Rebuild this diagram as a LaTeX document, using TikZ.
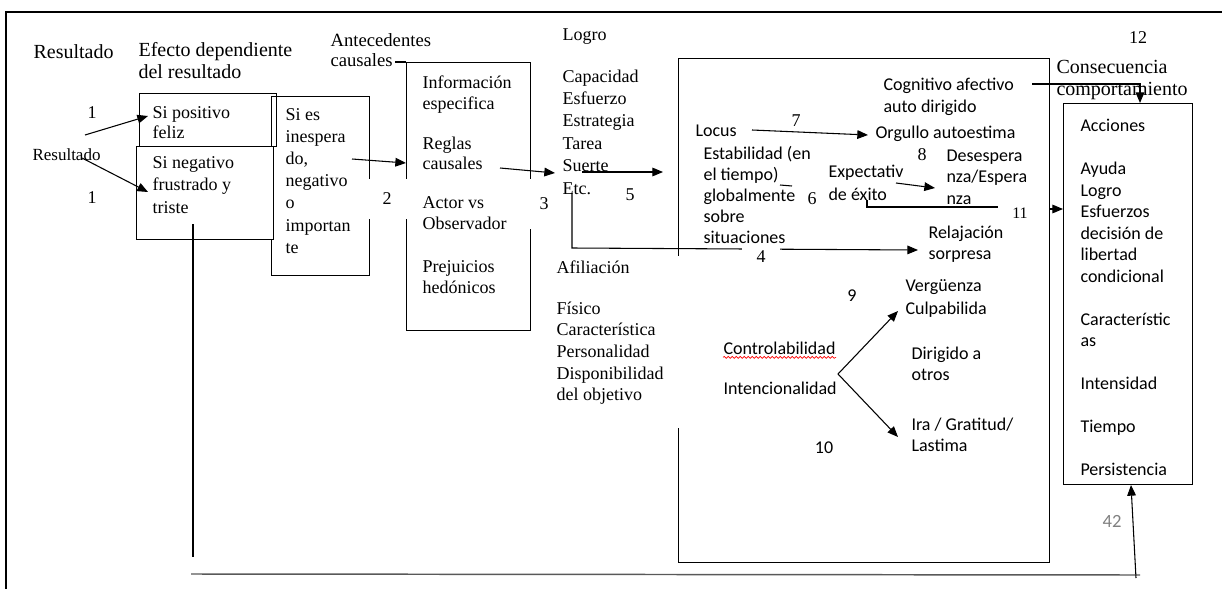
\documentclass[tikz,border=0pt]{standalone}
\usepackage{fontspec}
\setmainfont{Liberation Serif}
\newfontfamily\calfont{Carlito}
\usetikzlibrary{arrows.meta, positioning, decorations.pathmorphing}

\tikzset{
    txt/.style={inner sep=0pt, anchor=north west, align=left, font=\fontsize{13.5}{16.5}\selectfont},
    cal/.style={txt, font=\calfont\fontsize{13.5}{16.2}\selectfont},
    head/.style={txt, font=\fontsize{15}{16.5}\selectfont},
    num/.style={inner sep=0pt, font=\fontsize{13.5}{16.5}\selectfont},
    calnum/.style={inner sep=0pt, font=\calfont\fontsize{13.5}{16.5}\selectfont},
    box/.style={draw, line width=0.9pt, inner sep=0pt, anchor=north west},
    wh/.style 2 args={minimum width=#1*0.75pt, minimum height=#2*0.75pt},
    cover/.style={fill=white, inner sep=0pt},
    arr/.style={->, line width=0.8pt}
}

\begin{document}
\begin{tikzpicture}[
        x=0.75pt, y=-0.75pt,
        >={Triangle[length=8pt,width=6.5pt]},
        line width=0.8pt
    ]
    \useasboundingbox (0,0) rectangle (1222,589);

    % frame
    \draw[line width=1.6pt] (6,589) -- (6,12) -- (1222,12);

    % boxes
    \node[box, wh={137}{53}] (boxA) at (139,93) {};
    \node[box, wh={98}{179}] (boxC) at (271,96) {};
    \node[box, fill=white, wh={137}{93}] (boxB) at (136,146) {};
    \node[box, wh={124}{268}] (boxD) at (406,62) {};
    \node[box, wh={371}{504}] (boxE) at (678,58) {};
    \node[box, wh={129}{381}] (boxF) at (1063,103) {};

    % connector ends
    \coordinate (r1s) at (85,135);
    \coordinate (r1e) at (148,116);
    \coordinate (r2s) at (82,158);
    \coordinate (r2e) at (148,192);
    \coordinate (cout) at (352,159);
    \coordinate (din) at (406,163);
    \coordinate (dout) at (500,168);
    \coordinate (lin) at (555,173);
    \coordinate (lout) at (582,172);
    \coordinate (ein) at (663,172);
    \coordinate (etc) at (572,193);
    \coordinate (etc2) at (572,248);
    \coordinate (rin) at (918,250);
    \coordinate (locs) at (752,130);
    \coordinate (orgin) at (868,135);
    \coordinate (st1) at (780,185);
    \coordinate (st2) at (792,186);
    \coordinate (exs) at (896,183);
    \coordinate (dein) at (935,188);
    \coordinate (e1) at (867,200);
    \coordinate (e2) at (867,207);
    \coordinate (e3) at (998,207);
    \coordinate (e4) at (1049,209);
    \coordinate (fin) at (1063,209);
    \coordinate (vtx) at (838,374);
    \coordinate (vup) at (898,311);
    \coordinate (vdn) at (898,437);
    \coordinate (k1) at (1032,84);
    \coordinate (k2) at (1140,84);
    \coordinate (b1) at (193,224);
    \coordinate (b2) at (193,557);
    \coordinate (b3) at (191,574);
    \coordinate (b4) at (1140,575);
    \coordinate (b5) at (1136,578);
    \coordinate (b6) at (1131,485);

    % connectors
    \draw[arr] (r1s) -- (r1e);
    \draw[arr] (r2s) -- (r2e);
    \draw[arr] (cout) -- (din);
    \draw (395,62) -- (boxD.north west);
    \draw[arr] (dout) -- (lin);
    \draw[arr] (lout) -- (ein);
    \draw[arr] (etc) -- (etc2) -- (rin);
    \draw[arr] (locs) -- (orgin);
    \draw (st1) -- (st2);
    \draw[arr] (exs) -- (dein);
    \draw (e1) -- (e2) -- (e3);
    \draw[arr] (e4) -- (fin);
    \draw[arr] (vtx) -- (vup);
    \draw[arr] (vtx) -- (vdn);
    \draw[arr] (k1) -- (k2) -- (k2 |- boxF.north);
    \draw (b1) -- (b2);
    \draw[line width=1.1pt, gray!70!black] (b3) -- (b4);
    \draw[arr] (b5) -- (b6);

    % numbers (white text boxes)
    \node[num] (n1a) at (92,113) {1};
    \node[num] (n1b) at (92,198) {1};
    \node[num, cover, wh={66}{40}] (n2) at (387,199) {2};
    \node[num, cover, wh={48}{50}] (n3) at (544,204) {3};
    \node[num, cover, wh={38}{26}] (n4) at (761,257) {4};
    \node[num] (n5) at (630,195) {5};
    \node[num] (n6) at (812,199) {6};
    \node[num] (n7) at (796,121) {7};
    \node[num] (n8) at (922,155) {8};
    \node[calnum] (n9) at (852,296) {9};
    \node[calnum] (n10) at (824,448) {10};
    \node[num, font=\fontsize{12}{14}\selectfont] (n11) at (1020,213) {11};
    \node[num] (n12) at (1138,38) {12};
    \node[cover, wh={137}{172}, anchor=north west] (afilbg) at (553,255) {};

    % headings
    \node[head] (res1) at (33,44) {Resultado};
    \node[head] (efecto) at (138,42) {Efecto dependiente\\del resultado};
    \node[txt, font=\fontsize{14}{15}\selectfont] (ante) at (330,33) {Antecedentes\\causales};
    \node[txt] (logro) at (562,28) {Logro};
    \node[head] (conseq) at (1056,60) {Consecuencia\\comportamiento};

    % left column
    \node[txt, font=\fontsize{12.75}{15}\selectfont] (res2) at (32,148) {Resultado};
    \node[txt, font=\fontsize{13.5}{15}\selectfont] (pos) at (152,106) {Si positivo\\feliz};
    \node[txt, font=\fontsize{13.5}{16.9}\selectfont] (neg) at (152,156) {Si negativo\\frustrado y\\triste};
    \node[txt, font=\fontsize{13.5}{16.6}\selectfont] (ines) at (285,108)
        {Si es\\inespera\\do,\\negativo\\o\\importan\\te};

    % antecedentes
    \node[txt, font=\fontsize{13.5}{15.6}\selectfont] (info) at (422,75) {Información\\especifica};
    \node[txt, font=\fontsize{13.5}{15.6}\selectfont] (reglas) at (422,136) {Reglas\\causales};
    \node[txt, font=\fontsize{13.5}{15.6}\selectfont] (actor) at (422,196) {Actor vs\\Observador};
    \node[txt, font=\fontsize{13.5}{15.6}\selectfont] (prej) at (422,260) {Prejuicios\\hedónicos};

    % logro / afiliacion
    \node[txt, font=\fontsize{13.5}{16.8}\selectfont] (causas) at (562,69)
        {Capacidad\\Esfuerzo\\Estrategia\\Tarea\\Suerte\\Etc.};
    \node[txt] (afil) at (556,260) {Afiliación};
    \node[txt, font=\fontsize{13.5}{16.3}\selectfont] (fisico) at (556,301)
        {Físico\\Característica\\Personalidad\\Disponibilidad\\del objetivo};

    % dimensiones y emociones
    \node[cal] (cogn) at (883,78) {Cognitivo afectivo\\auto dirigido};
    \node[cal] (locus) at (695,124) {Locus};
    \node[cal] (orgullo) at (875,125) {Orgullo autoestima};
    \node[cal, font=\calfont\fontsize{13.5}{15.75}\selectfont] (estab) at (703,146)
        {Estabilidad (en\\el tiempo)\\globalmente\\sobre\\situaciones};
    \node[cal, font=\calfont\fontsize{13.5}{17}\selectfont] (expect) at (828,165) {Expectativ\\de éxito};
    \node[cal] (deses) at (946,149) {Desespera\\nza/Espera\\nza};
    \node[cal] (relaj) at (928,225) {Relajación\\sorpresa};
    \node[cal, font=\calfont\fontsize{13.5}{17}\selectfont] (verg) at (905,279) {Vergüenza\\Culpabilida};
    \node[cal] (contr) at (723,341) {Controlabilidad};
    \node[cal] (inten) at (723,381) {Intencionalidad};
    \node[cal] (dirig) at (911,346) {Dirigido a\\otros};
    \node[cal] (ira) at (911,417) {Ira / Gratitud/\\Lastima};
    \draw[red, line width=0.5pt, decorate, decoration={snake, amplitude=0.7pt, segment length=3pt}]
        ([yshift=-2pt]contr.south west) -- ([yshift=-2pt]contr.south east);

    % consecuencias
    \node[cal, font=\calfont\fontsize{13.5}{16.1}\selectfont] (acc) at (1080,119)
        {Acciones\\[16.1pt]Ayuda\\Logro\\Esfuerzos\\decisión de\\libertad\\condicional\\[16.1pt]Característic\\as\\[16.1pt]Intensidad\\[16.1pt]Tiempo\\[16.1pt]Persistencia};
    \node[calnum, text=gray, font=\calfont\fontsize{14}{16}\selectfont] (pag) at (1112,521) {42};
\end{tikzpicture}
\end{document}
